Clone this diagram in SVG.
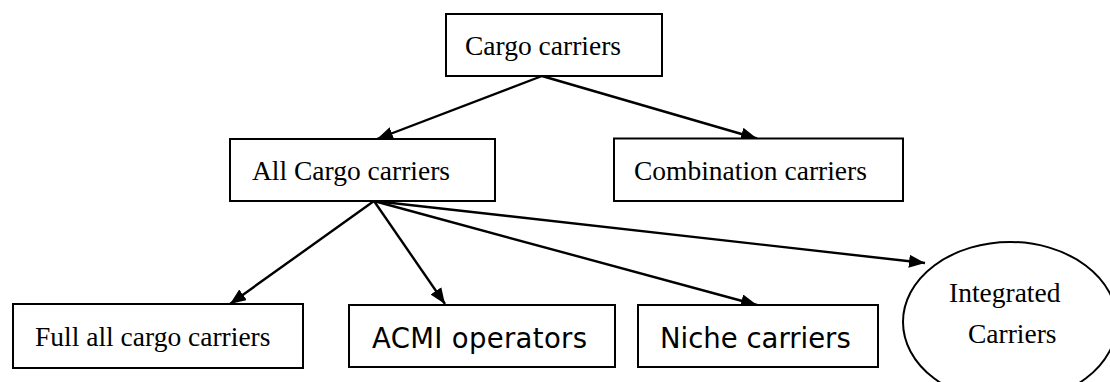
<svg xmlns="http://www.w3.org/2000/svg" width="1110" height="382" viewBox="0 0 1110 382">
<style>
.box{fill:#fff;stroke:#000;stroke-width:2}
.serif{font-family:"Liberation Serif","Times New Roman",serif;font-size:27.5px;fill:#000}
.sans{font-family:"DejaVu Sans",Verdana,sans-serif;font-size:27.5px;fill:#000}
.edge{stroke:#000;stroke-width:2.4;fill:none;marker-end:url(#arrow)}
</style>
<defs>
<marker id="arrow" markerUnits="userSpaceOnUse" markerWidth="18" markerHeight="14" refX="16" refY="6.5" orient="auto">
<path d="M0,0 L16,6.5 L0,13 z" fill="#000"/>
</marker>
</defs>
<rect width="1110" height="382" fill="#fff"/>
<g id="connectors">
<line class="edge" x1="542" y1="76" x2="377" y2="139"/>
<line class="edge" x1="542" y1="76" x2="757" y2="138.5"/>
<line class="edge" x1="374" y1="201" x2="230" y2="304"/>
<line class="edge" x1="374" y1="201" x2="445" y2="304"/>
<line class="edge" x1="374" y1="201" x2="757" y2="305"/>
<line class="edge" x1="374" y1="201" x2="925" y2="263"/>
</g>
<g id="cargo-carriers">
<rect class="box" x="446" y="14" width="216" height="62"/>
<text class="serif" x="465" y="55">Cargo carriers</text>
</g>
<g id="all-cargo-carriers">
<rect class="box" x="230" y="139" width="265" height="62"/>
<text class="serif" x="252" y="180">All Cargo carriers</text>
</g>
<g id="combination-carriers">
<rect class="box" x="614" y="138.5" width="289" height="62.5"/>
<text class="serif" x="634" y="180">Combination carriers</text>
</g>
<g id="full-all-cargo-carriers">
<rect class="box" x="13" y="304" width="290" height="64"/>
<text class="serif" x="35" y="346">Full all cargo carriers</text>
</g>
<g id="acmi-operators">
<rect class="box" x="349" y="305" width="266" height="62"/>
<text class="sans" x="372" y="348" textLength="215">ACMI operators</text>
</g>
<g id="niche-carriers">
<rect class="box" x="638" y="305" width="240" height="62"/>
<text class="sans" x="660" y="348">Niche carriers</text>
</g>
<g id="integrated-carriers">
<ellipse class="box" cx="1010" cy="322" rx="107" ry="80"/>
<text class="serif" x="949" y="302">Integrated</text>
<text class="serif" x="968" y="343">Carriers</text>
</g>
</svg>
